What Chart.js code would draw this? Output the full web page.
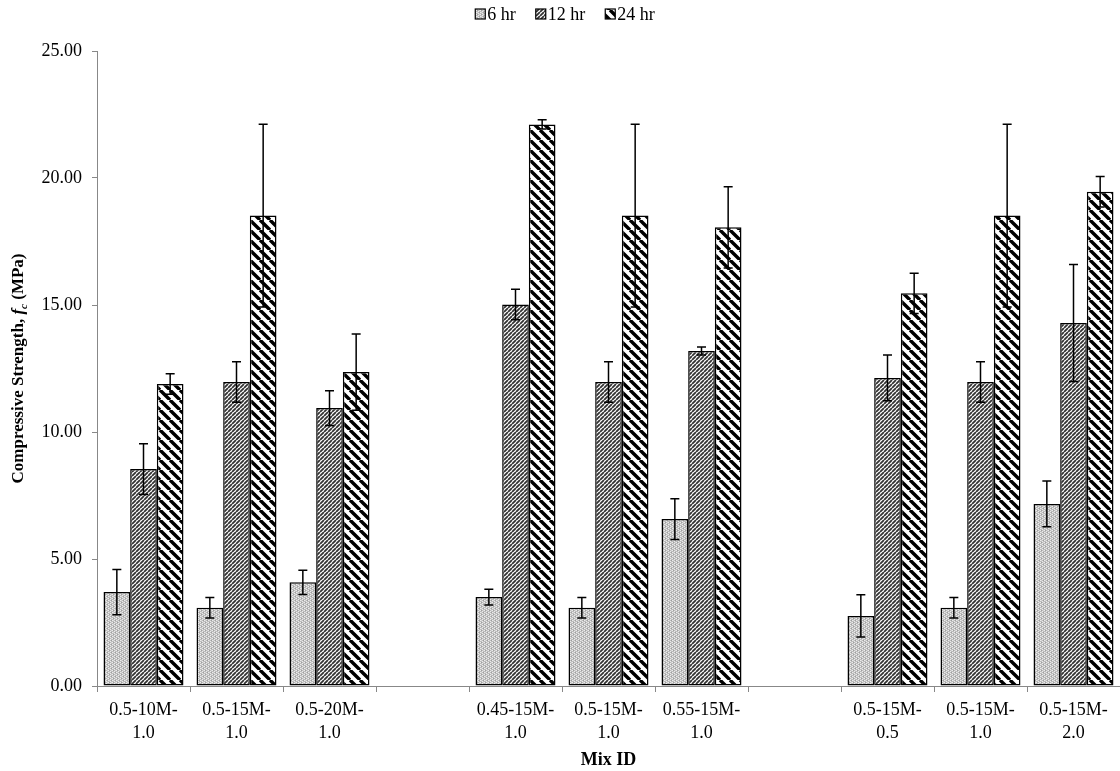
<!DOCTYPE html>
<html><head><meta charset="utf-8">
<script src="https://cdn.jsdelivr.net/npm/chart.js@4/dist/chart.umd.min.js"></script>
<style>html,body{margin:0;padding:0;background:#fff}#wrap{width:1120px;height:771px;position:relative}canvas{display:block}</style>
</head><body><div id="wrap"><canvas id="c" width="1120" height="771" style="width:1120px;height:771px"></canvas></div>
<script>
const categories = [["0.5-10M-","1.0"],["0.5-15M-","1.0"],["0.5-20M-","1.0"],"",["0.45-15M-","1.0"],["0.5-15M-","1.0"],["0.55-15M-","1.0"],"",["0.5-15M-","0.5"],["0.5-15M-","1.0"],["0.5-15M-","2.0"]];
const seriesNames = ["6 hr","12 hr","24 hr"];
const values6  = [3.70, 3.08, 4.08, null, 3.50, 3.08, 6.57, null, 2.76, 3.08, 7.17];
const err6     = [0.89, 0.40, 0.48, null, 0.31, 0.40, 0.80, null, 0.83, 0.40, 0.90];
const values12 = [8.54, 11.97, 10.94, null, 15.02, 11.97, 13.19, null, 12.13, 11.97, 14.29];
const err12    = [1.00, 0.80, 0.68, null, 0.60, 0.80, 0.16, null, 0.90, 0.80, 2.30];
const values24 = [11.89, 18.52, 12.36, null, 22.11, 18.52, 18.06, null, 15.46, 18.52, 19.46];
const err24    = [0.40, 3.60, 1.50, null, 0.18, 3.60, 1.60, null, 0.79, 3.60, 0.60];
const yTicks = [0, 5, 10, 15, 20, 25];

const FONT = "'Liberation Serif','Times New Roman',serif";
const FS = 18;

function makePattern(kind){
  const t = document.createElement('canvas');
  const g = t.getContext('2d');
  if(kind === 'dots'){
    t.width = 4; t.height = 4;
    g.fillStyle = '#bcbcbc'; g.fillRect(0,0,4,4);
    g.fillStyle = '#ececec';
    g.fillRect(0,0,1,1); g.fillRect(0,2,1,1); g.fillRect(2,1,1,1); g.fillRect(2,3,1,1);
    g.fillStyle = '#d6d6d6';
    g.fillRect(1,0,1,1); g.fillRect(3,2,1,1);
    g.fillStyle = '#a0a0a0';
    g.fillRect(3,0,1,1); g.fillRect(1,2,1,1);
  } else if(kind === 'fwd'){
    const s = 4; t.width = s; t.height = s;
    g.fillStyle = '#ffffff'; g.fillRect(0,0,s,s);
    g.strokeStyle = '#333333'; g.lineWidth = 1.8;
    g.beginPath();
    for(const x0 of [-s,0,s]){ g.moveTo(x0, s); g.lineTo(x0 + s, 0); }
    g.stroke();
  } else {
    const s = 10; t.width = s; t.height = s;
    g.fillStyle = '#ffffff'; g.fillRect(0,0,s,s);
    g.strokeStyle = '#000000'; g.lineWidth = 3.4;
    g.beginPath();
    for(const x0 of [-s,0,s]){ g.moveTo(x0, 0); g.lineTo(x0 + s, s); }
    g.stroke();
  }
  return document.getElementById('c').getContext('2d').createPattern(t, 'repeat');
}

const errorBars = {
  id: 'errorBars',
  afterDatasetsDraw(chart){
    const ctx = chart.ctx, y = chart.scales.y;
    chart.data.datasets.forEach((ds, i) => {
      const meta = chart.getDatasetMeta(i);
      meta.data.forEach((bar, j) => {
        const v = ds.data[j], e = ds.errors[j];
        if(v == null || e == null) return;
        const yt = y.getPixelForValue(v + e), yb = y.getPixelForValue(v - e);
        ctx.save();
        ctx.strokeStyle = '#000'; ctx.lineWidth = 1.5;
        ctx.beginPath();
        ctx.moveTo(bar.x, yt); ctx.lineTo(bar.x, yb);
        ctx.moveTo(bar.x - 4.5, yt); ctx.lineTo(bar.x + 4.5, yt);
        ctx.moveTo(bar.x - 4.5, yb); ctx.lineTo(bar.x + 4.5, yb);
        ctx.stroke();
        ctx.restore();
      });
    });
  }
};

const yTitle = {
  id: 'yTitle',
  afterDraw(chart){
    const ctx = chart.ctx, a = chart.chartArea;
    const TS = 17;
    const parts = [
      {t: 'Compressive Strength, ', f: 'bold ' + TS + 'px ' + FONT, dy: 0},
      {t: 'f', f: 'italic bold ' + TS + 'px ' + FONT, dy: 0},
      {t: 'c', f: 'italic bold 11px ' + FONT, dy: 5},
      {t: ' (MPa)', f: 'bold ' + TS + 'px ' + FONT, dy: 0}
    ];
    ctx.save();
    let total = 0;
    parts.forEach(p => { ctx.font = p.f; p.w = ctx.measureText(p.t).width; total += p.w; });
    ctx.translate(19, (a.top + a.bottom) / 2);
    ctx.rotate(-Math.PI / 2);
    ctx.fillStyle = '#000';
    ctx.textBaseline = 'middle';
    let x = -total / 2;
    parts.forEach(p => { ctx.font = p.f; ctx.fillText(p.t, x, p.dy); x += p.w; });
    ctx.restore();
  }
};

const topLegend = {
  id: 'topLegend',
  afterDraw(chart){
    const ctx = chart.ctx;
    const cy = 14, box = 10, gapText = 2, gapItem = 20;
    ctx.save();
    ctx.font = FS + 'px ' + FONT;
    const items = chart.data.datasets.map(ds => ({ds, w: ctx.measureText(ds.label).width}));
    let total = 0;
    items.forEach((it, i) => { total += box + gapText + it.w + (i < items.length - 1 ? gapItem : 0); });
    let x = 565 - total / 2;
    ctx.textBaseline = 'middle';
    ctx.fillStyle = '#000';
    items.forEach(it => {
      ctx.fillStyle = it.ds.backgroundColor;
      ctx.fillRect(x, cy - box / 2, box, box);
      ctx.strokeStyle = '#000'; ctx.lineWidth = 1.2;
      ctx.strokeRect(x, cy - box / 2, box, box);
      ctx.fillStyle = '#000';
      ctx.fillText(it.ds.label, x + box + gapText, cy + 1);
      x += box + gapText + it.w + gapItem;
    });
    ctx.restore();
  }
};

const pats = [makePattern('dots'), makePattern('fwd'), makePattern('back')];
const vals = [values6, values12, values24];
const errs = [err6, err12, err24];

new Chart(document.getElementById('c'), {
  type: 'bar',
  data: {
    labels: categories,
    datasets: seriesNames.map((n, i) => ({
      label: n,
      data: vals[i],
      errors: errs[i],
      backgroundColor: pats[i],
      borderColor: '#000',
      borderWidth: 1.5,
      borderSkipped: false,
      categoryPercentage: 0.86,
      barPercentage: 1.0
    }))
  },
  options: {
    responsive: false,
    maintainAspectRatio: false,
    animation: false,
    devicePixelRatio: 1,
    layout: {padding: {top: 51, left: 0, right: 0, bottom: 0}},
    plugins: {
      legend: {display: false},
      tooltip: {enabled: false}
    },
    scales: {
      x: {
        offset: true,
        grid: {offset: true, drawOnChartArea: false, drawTicks: true, tickLength: 6, color: '#888'},
        border: {color: '#888', width: 1},
        ticks: {font: {family: FONT, size: FS, lineHeight: 1.28}, color: '#000', padding: 7, maxRotation: 0, autoSkip: false},
        title: {display: true, text: 'Mix ID', font: {family: FONT, size: FS, weight: 'bold'}, color: '#000', padding: {top: 0, bottom: 0}},
        afterFit(s){ s.height = 85; }
      },
      y: {
        min: 0, max: 25,
        afterBuildTicks(s){ s.ticks = yTicks.map(v => ({value: v})); },
        grid: {drawOnChartArea: false, drawTicks: true, tickLength: 5, color: '#888'},
        border: {color: '#888', width: 1},
        ticks: {font: {family: FONT, size: FS}, color: '#000', padding: 10, callback: v => Number(v).toFixed(2)},
        afterFit(s){ s.width = 97; }
      }
    }
  },
  plugins: [errorBars, yTitle, topLegend]
});
</script>
</body></html>
